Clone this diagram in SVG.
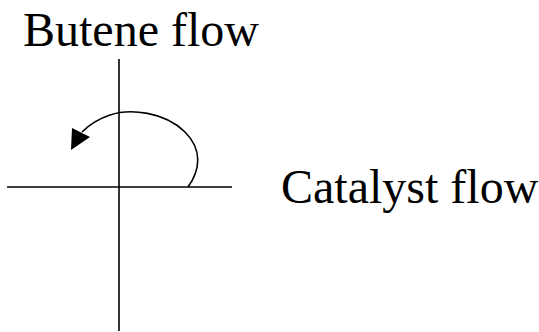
<svg xmlns="http://www.w3.org/2000/svg" width="539" height="332" viewBox="0 0 539 332">
<style>
.t{font-family:"Liberation Serif","Times New Roman",serif;font-size:48px;fill:#000}
.ln{stroke:#000;stroke-width:1.6;fill:none}
</style>
<rect width="539" height="332" fill="#fff"/>
<g id="butene-label"><text class="t" x="23" y="46">Butene flow</text></g>
<g id="catalyst-label"><text class="t" x="281" y="203">Catalyst flow</text></g>
<g id="connectors">
<line class="ln" x1="119" y1="59" x2="119" y2="331"/>
<line class="ln" x1="7" y1="187" x2="232" y2="187"/>
<path class="ln" d="M188,187 C200,170 203,150 185,132 C165,112 130,108 110,115 C98,119 88,126 82,132"/>
<polygon points="71,150 72,128 90,137" fill="#000"/>
</g>
</svg>
